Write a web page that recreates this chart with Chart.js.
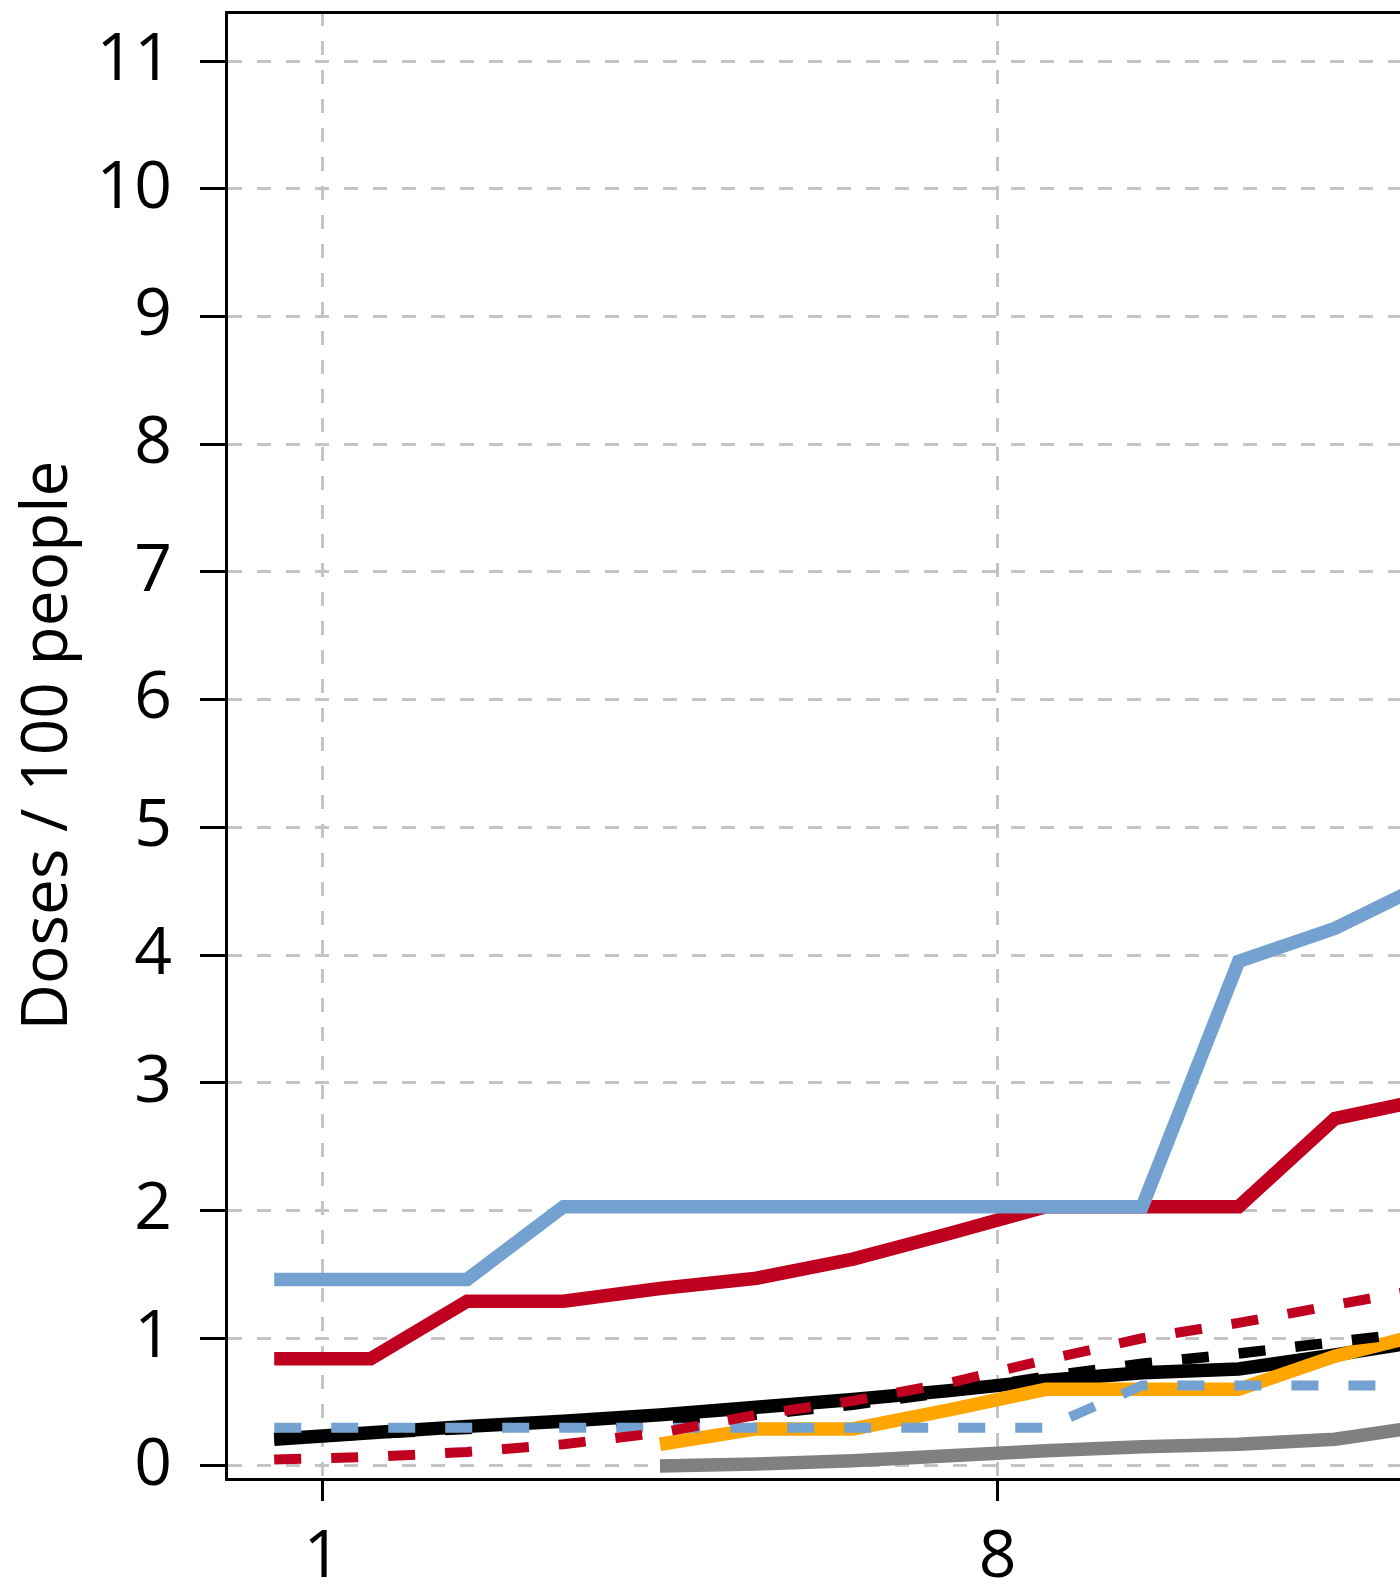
<!DOCTYPE html>
<html>
<head>
<meta charset="utf-8">
<script src="https://cdn.jsdelivr.net/npm/chart.js@4.4.1/dist/chart.umd.min.js"></script>
<style>
  html, body { margin: 0; padding: 0; background: #ffffff; }
  #wrap { width: 1400px; height: 1584px; overflow: hidden; position: relative; }
  canvas { display: block; }
</style>
</head>
<body>
<div id="wrap"><canvas id="c" width="1800" height="1584"></canvas></div>
<script>
// ---- data ----
const weeks = [0.5, 1.5, 2.5, 3.5, 4.5, 5.5, 6.5, 7.5, 8.5, 9.5, 10.5, 11.5, 12.5];
const blueSolid  = [1.46, 1.46, 1.46, 2.03, 2.03, 2.03, 2.03, 2.03, 2.03, 2.03, 3.95, 4.21, 4.58];
const redSolid   = [0.84, 0.84, 1.29, 1.29, 1.39, 1.47, 1.62, 1.82, 2.03, 2.03, 2.03, 2.72, 2.88];
const blackSolid = [0.21, 0.26, 0.31, 0.35, 0.40, 0.46, 0.52, 0.59, 0.67, 0.73, 0.76, 0.87, 0.99];
const blackDash  = [0.21, 0.25, 0.29, 0.33, 0.36, 0.40, 0.48, 0.58, 0.70, 0.80, 0.88, 0.97, 1.06];
const orangeSolid= [null, null, null, null, 0.17, 0.29, 0.29, 0.44, 0.60, 0.60, 0.60, 0.86, 1.05];
const graySolid  = [null, null, null, null, 0.00, 0.015, 0.04, 0.08, 0.12, 0.15, 0.17, 0.21, 0.32];
const blueDash   = [0.30, 0.30, 0.30, 0.30, 0.30, 0.30, 0.30, 0.30, 0.30, 0.63, 0.63, 0.63, 0.63];
const redDash    = [0.05, 0.07, 0.11, 0.17, 0.26, 0.40, 0.51, 0.65, 0.83, 1.00, 1.12, 1.26, 1.40];
const xTicks = [1, 8, 15];
const yTicks = [0, 1, 2, 3, 4, 5, 6, 7, 8, 9, 10, 11];
const yTitle = 'Doses / 100 people';

const pts = arr => weeks.map((x, i) => ({ x: x, y: arr[i] }));

const BLUE = '#74a2d0', RED = '#c0001f', ORANGE = '#ffa500', GRAY = '#808080', BLACK = '#000000';
const GRID = '#c4c4c4';

Chart.defaults.font.family = "'Open Sans', 'Noto Sans', sans-serif";
Chart.defaults.color = '#000';

function ds(label, data, color, width, dash, order) {
  return {
    label, data: pts(data), borderColor: color, backgroundColor: color,
    borderWidth: width, borderDash: dash, pointRadius: 0, tension: 0,
    fill: false, order: order, spanGaps: false, borderCapStyle: 'butt'
  };
}

const noPad = s => { s.paddingTop = 0; s.paddingBottom = 0; s.paddingLeft = 0; s.paddingRight = 0; };

new Chart(document.getElementById('c'), {
  type: 'line',
  data: {
    datasets: [
      ds('red dashed', redDash, RED, 10, [27, 30], 0),
      ds('blue dashed', blueDash, BLUE, 10, [27, 30], 1),
      ds('black dashed', blackDash, BLACK, 10.5, [27, 30], 2),
      ds('orange', orangeSolid, ORANGE, 13.5, [], 3),
      ds('black', blackSolid, BLACK, 13.5, [], 4),
      ds('blue', blueSolid, BLUE, 13.5, [], 5),
      ds('red', redSolid, RED, 13.5, [], 6),
      ds('gray', graySolid, GRAY, 13.5, [], 7)
    ]
  },
  options: {
    responsive: false,
    devicePixelRatio: 1,
    animation: false,
    layout: { padding: { left: 0, right: 31, top: 0, bottom: 0 } },
    plugins: { legend: { display: false }, tooltip: { enabled: false } },
    scales: {
      x: {
        type: 'linear', position: 'bottom', min: 0, max: 16,
        afterBuildTicks: s => { s.ticks = xTicks.map(v => ({ value: v })); },
        afterFit: s => { s.height = 105; noPad(s); },
        ticks: { font: { size: 66 }, color: '#000', padding: 18, maxRotation: 0, autoSkip: false },
        grid: { color: GRID, lineWidth: 3, tickColor: '#000', tickWidth: 3, tickLength: 22, drawOnChartArea: true },
        border: { display: true, color: '#000', width: 3, dash: [14, 15] }
      },
      xTop: {
        type: 'linear', position: 'top', min: 0, max: 16,
        afterFit: s => { s.height = 12; noPad(s); },
        ticks: { display: false },
        grid: { display: true, drawOnChartArea: false, drawTicks: false },
        border: { display: true, color: '#000', width: 3 }
      },
      y: {
        type: 'linear', position: 'left', min: -0.102, max: 11.384,
        afterBuildTicks: s => { s.ticks = yTicks.map(v => ({ value: v })); },
        afterFit: s => { s.width = 226; noPad(s); },
        ticks: { font: { size: 66 }, color: '#000', padding: 28 },
        grid: { color: GRID, lineWidth: 3, tickColor: '#000', tickWidth: 3, tickLength: 26, drawOnChartArea: true },
        border: { display: true, color: '#000', width: 3, dash: [14, 15] },
        title: { display: true, text: yTitle, color: '#000', font: { size: 64 }, padding: { top: 10, bottom: 0 } }
      }
    }
  }
});
</script>
</body>
</html>
